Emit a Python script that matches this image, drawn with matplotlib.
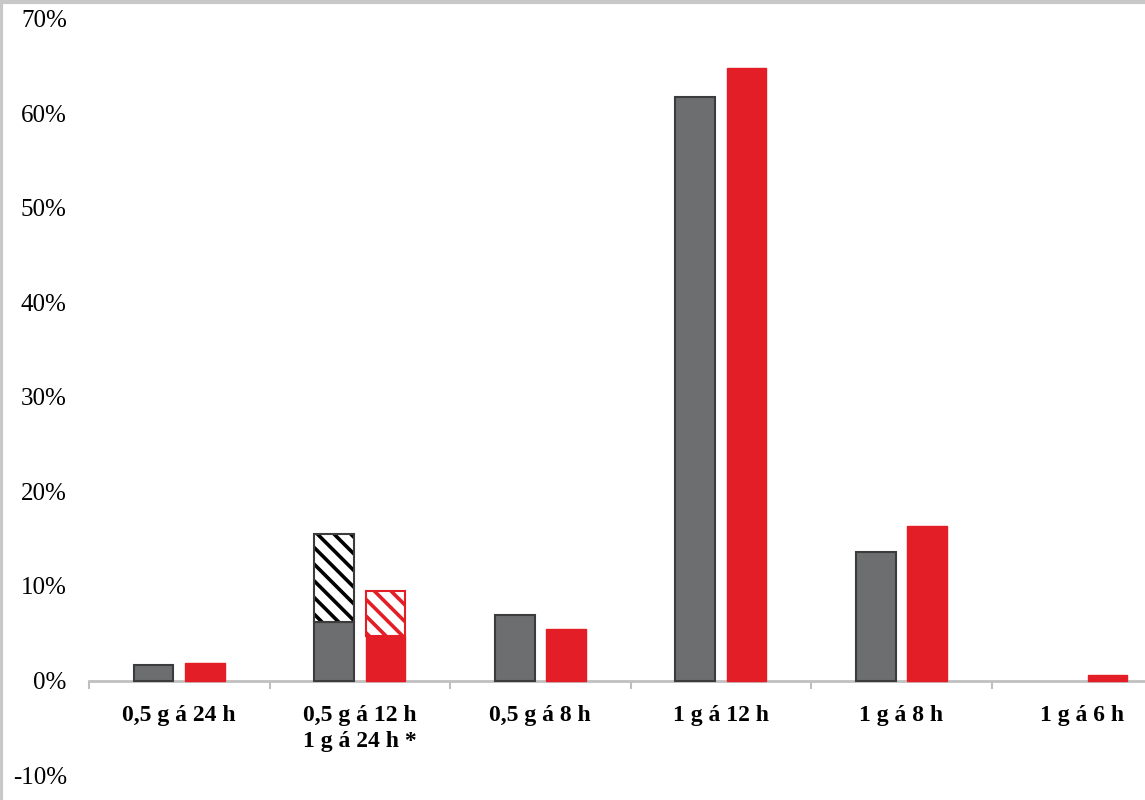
import matplotlib
matplotlib.use("Agg")
import matplotlib.pyplot as plt
from matplotlib.lines import Line2D
import numpy as np

# categories and values (percent)
categories = ["0,5 g á 24 h", "0,5 g á 12 h\n1 g á 24 h *", "0,5 g á 8 h",
              "1 g á 12 h", "1 g á 8 h", "1 g á 6 h"]
grey_vals = [1.6, 6.2, 6.9, 61.7, 13.6, 0.0]
red_vals = [1.9, 4.7, 5.4, 64.8, 16.4, 0.6]
# hatched extra part stacked on top (only second group)
grey_hatch = [0, 9.3, 0, 0, 0, 0]
red_hatch = [0, 4.8, 0, 0, 0, 0]
yticks = [-10, 0, 10, 20, 30, 40, 50, 60, 70]

grey = "#6d6e70"
grey_edge = "#3c3c3c"
red = "#e41e26"

plt.rcParams["hatch.linewidth"] = 2.6

fig = plt.figure(figsize=(11.45, 8), dpi=100)
ax = fig.add_axes([89 / 1145, 25 / 800, 1 - 89 / 1145, (775 - 19) / 800])

# x axis line at zero (set first, it resets the tick setup)
ax.spines["bottom"].set_position(("data", 0))
for s in ["top", "right", "left"]:
    ax.spines[s].set_visible(False)
ax.spines["bottom"].set_color("#c0c0c0")
ax.spines["bottom"].set_linewidth(2)
ax.spines["bottom"].set_zorder(2)

x = np.arange(len(categories))
w = 0.22
off = 0.142

gv = np.array(grey_vals)
rv = np.array(red_vals)
m = gv > 0
ax.bar(x[m] - off, gv[m], w, color=grey, edgecolor=grey_edge, linewidth=1.5, zorder=3)
m = rv > 0
ax.bar(x[m] + off, rv[m], w, color=red, edgecolor=red, linewidth=1, zorder=3)

# hatched parts
gh = np.array(grey_hatch)
rh = np.array(red_hatch)
m = gh > 0
ax.bar(x[m] - off, gh[m], w, bottom=gv[m], color="white",
       edgecolor="black", hatch="\\\\", linewidth=0, zorder=3)
ax.bar(x[m] - off, gh[m], w, bottom=gv[m], fill=False,
       edgecolor=grey_edge, linewidth=1.5, zorder=4)
m = rh > 0
ax.bar(x[m] + off, rh[m], w, bottom=rv[m], color="white",
       edgecolor=red, hatch="\\\\", linewidth=0, zorder=3)
ax.bar(x[m] + off, rh[m], w, bottom=rv[m], fill=False,
       edgecolor=red, linewidth=1.5, zorder=4)

ax.set_yticks(yticks)
ax.set_yticklabels([f"{t}%" for t in yticks], family="Liberation Serif", fontsize=18)
ax.tick_params(axis="y", length=0, pad=16)

ax.set_xticks(x)
ax.set_xticklabels(categories, family="Liberation Serif", fontweight="bold",
                   fontsize=17, linespacing=1.25)
ax.tick_params(axis="x", length=0, pad=18)
ax.set_xticks(np.arange(-0.5, 5.0, 1.0), minor=True)
ax.tick_params(axis="x", which="minor", length=6, width=1.5, color="#bfbfbf")
ax.patch.set_alpha(0)

# limits last, set_xticks may widen them
ax.set_xlim(-0.5, 5.35)
ax.set_ylim(-10, 70)

# thin frame at top and left edge of the picture
fig.add_artist(Line2D([0, 1], [0.998, 0.998], color="#c8c8c8", linewidth=3, transform=fig.transFigure))
fig.add_artist(Line2D([0.001, 0.001], [0, 1], color="#c8c8c8", linewidth=3, transform=fig.transFigure))

fig.savefig("out.png", dpi=100, facecolor="white")
